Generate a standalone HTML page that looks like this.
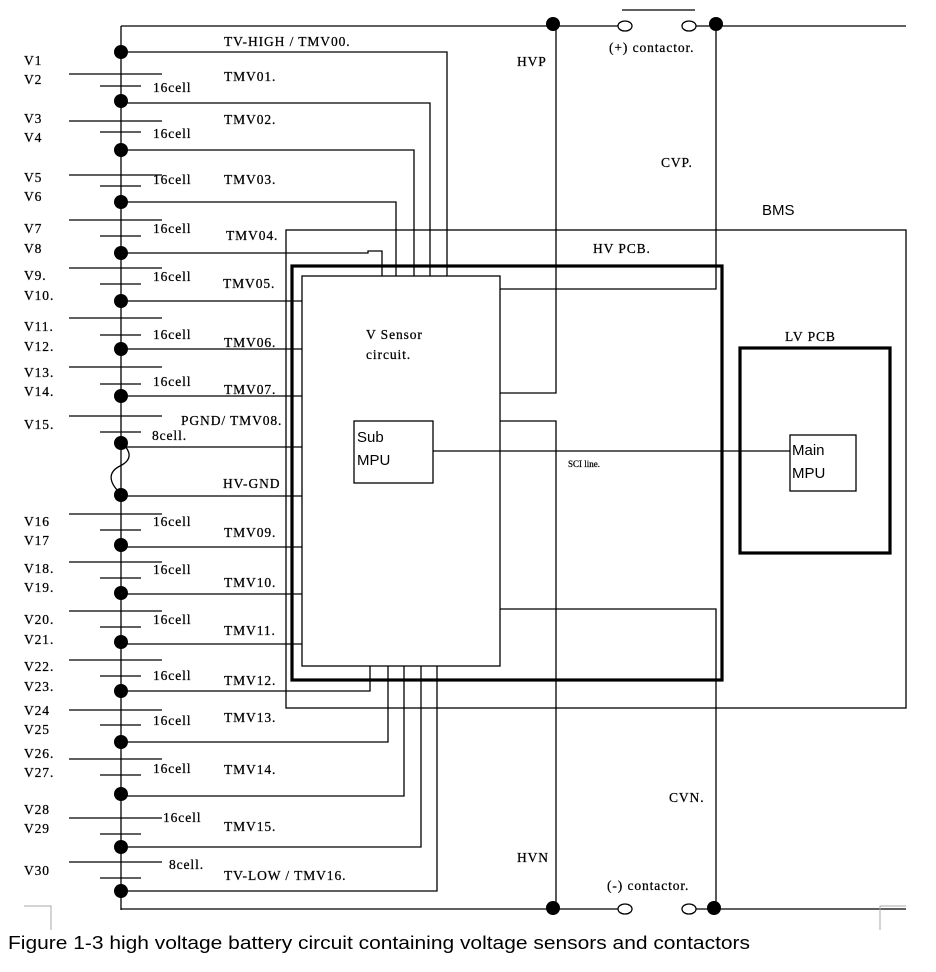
<!DOCTYPE html>
<html><head><meta charset="utf-8"><style>
html,body{margin:0;padding:0;background:#fff;}
svg{display:block;}
.t{font-family:"Liberation Serif",serif;font-size:13.5px;letter-spacing:0.9px;fill:#000;stroke:#000;stroke-width:0.25;}
.s{font-family:"Liberation Sans",sans-serif;fill:#000;}
</style></head><body>
<svg width="936" height="972" viewBox="0 0 936 972" xmlns="http://www.w3.org/2000/svg">
<g stroke="#000" stroke-width="1.3" fill="none">
<line x1="121" y1="26" x2="121" y2="910"/>
<line x1="121" y1="26" x2="618" y2="26"/>
<line x1="696" y1="26" x2="906" y2="26"/>
<line x1="622" y1="10" x2="695" y2="10"/>
<ellipse cx="625" cy="26" rx="7" ry="5"/>
<ellipse cx="689" cy="26" rx="7" ry="5"/>
<line x1="121" y1="909" x2="618" y2="909"/>
<line x1="696" y1="909" x2="906" y2="909"/>
<ellipse cx="625" cy="909" rx="7" ry="5"/>
<ellipse cx="689" cy="909" rx="7" ry="5"/>
<path d="M69 74H162M100 86H141
M69 121H162M100 132H141
M69 175H162M100 186H141
M69 220H162M100 236H141
M69 268H162M100 284H141
M69 318H162M100 335H141
M69 367H162M100 384H141
M69 416H162M100 432H141
M69 514H162M100 530H141
M69 562H162M100 578H141
M69 611H162M100 627H141
M69 660H162M100 676H141
M69 710H162M100 725H141
M69 759H162M100 775H141
M69 818H162M100 834H141
M69 862H162M100 878H141"/>
<path d="M121 442 C132 452,132 460,120 466 C108 472,108 482,121 494"/>
<rect x="286" y="230" width="620" height="478"/>
<rect x="302" y="276" width="198" height="390"/>
<rect x="354" y="421" width="79" height="62"/>
<rect x="790" y="435" width="66" height="56"/>
<line x1="433" y1="451" x2="790" y2="451"/>
<path d="M121 52H447V276"/>
<path d="M121 103H430V276"/>
<path d="M121 150H414V276"/>
<path d="M121 202H396V276"/>
<path d="M121 253H368V251H382V276"/>
<path d="M121 301H302M121 349H302M121 396H302M121 447H302M121 496H302M121 547H302M121 594H302M121 644H302"/>
<path d="M121 691H370V666"/>
<path d="M121 742H388V666"/>
<path d="M121 796H404V666"/>
<path d="M121 847H421V666"/>
<path d="M121 891H437V666"/>
<path d="M556 24V393H500"/>
<path d="M556 908V421H500"/>
<path d="M716 24V289H500"/>
<path d="M716 908V609H500"/>
</g>
<g stroke="#000" stroke-width="3.2" fill="none">
<rect x="292" y="266" width="430" height="414"/>
<rect x="740" y="348" width="150" height="205"/>
</g>
<g fill="#000">
<circle cx="121" cy="52" r="7"/><circle cx="121" cy="101" r="7"/><circle cx="121" cy="150" r="7"/>
<circle cx="121" cy="202" r="7"/><circle cx="121" cy="253" r="7"/><circle cx="121" cy="301" r="7"/>
<circle cx="121" cy="349" r="7"/><circle cx="121" cy="396" r="7"/><circle cx="121" cy="443" r="7"/>
<circle cx="121" cy="495" r="7"/><circle cx="121" cy="545" r="7"/><circle cx="121" cy="593" r="7"/>
<circle cx="121" cy="642" r="7"/><circle cx="121" cy="691" r="7"/><circle cx="121" cy="742" r="7"/>
<circle cx="121" cy="794" r="7"/><circle cx="121" cy="847" r="7"/><circle cx="121" cy="891" r="7"/>
<circle cx="553" cy="24" r="7"/><circle cx="716" cy="24" r="7"/>
<circle cx="553" cy="908" r="7"/><circle cx="714" cy="908" r="7"/>
</g>
<g stroke="#aaa" fill="none"><path d="M24 906H51V930"/><path d="M906 906H880V930"/></g>
<g class="t">
<text x="24" y="65">V1</text><text x="24" y="84">V2</text><text x="24" y="123">V3</text><text x="24" y="142">V4</text>
<text x="24" y="182">V5</text><text x="24" y="201">V6</text><text x="24" y="233">V7</text><text x="24" y="253">V8</text>
<text x="24" y="280">V9.</text><text x="24" y="300">V10.</text><text x="24" y="331">V11.</text><text x="24" y="351">V12.</text>
<text x="24" y="377">V13.</text><text x="24" y="396">V14.</text><text x="24" y="429">V15.</text>
<text x="24" y="526">V16</text><text x="24" y="545">V17</text><text x="24" y="573">V18.</text><text x="24" y="592">V19.</text>
<text x="24" y="624">V20.</text><text x="24" y="644">V21.</text><text x="24" y="671">V22.</text><text x="24" y="691">V23.</text>
<text x="24" y="715">V24</text><text x="24" y="734">V25</text><text x="24" y="758">V26.</text><text x="24" y="777">V27.</text>
<text x="24" y="814">V28</text><text x="24" y="833">V29</text><text x="24" y="875">V30</text>
<text x="153" y="92">16cell</text><text x="153" y="138">16cell</text><text x="153" y="184">16cell</text>
<text x="153" y="233">16cell</text><text x="153" y="281">16cell</text><text x="153" y="339">16cell</text>
<text x="153" y="386">16cell</text><text x="152" y="440">8cell.</text><text x="153" y="526">16cell</text>
<text x="153" y="574">16cell</text><text x="153" y="624">16cell</text><text x="153" y="680">16cell</text>
<text x="153" y="725">16cell</text><text x="153" y="773">16cell</text><text x="163" y="822">16cell</text>
<text x="169" y="869">8cell.</text>
<text x="224" y="46">TV-HIGH / TMV00.</text><text x="224" y="81">TMV01.</text><text x="224" y="124">TMV02.</text>
<text x="224" y="184">TMV03.</text><text x="226" y="240">TMV04.</text><text x="223" y="288">TMV05.</text>
<text x="224" y="347">TMV06.</text><text x="224" y="394">TMV07.</text><text x="181" y="425">PGND/ TMV08.</text>
<text x="223" y="488">HV-GND</text><text x="224" y="537">TMV09.</text><text x="224" y="587">TMV10.</text>
<text x="224" y="635">TMV11.</text><text x="224" y="685">TMV12.</text><text x="224" y="722">TMV13.</text>
<text x="224" y="774">TMV14.</text><text x="224" y="831">TMV15.</text><text x="224" y="880">TV-LOW / TMV16.</text>
<text x="517" y="66">HVP</text><text x="517" y="862">HVN</text><text x="661" y="167">CVP.</text><text x="669" y="802">CVN.</text>
<text x="609" y="52">(+) contactor.</text><text x="607" y="890">(-) contactor.</text>
<text x="593" y="253">HV PCB.</text><text x="785" y="341">LV PCB</text>
<text x="366" y="339">V Sensor</text><text x="366" y="359">circuit.</text>
<text x="568" y="467" style="font-size:9px;letter-spacing:0">SCI line.</text>
</g>
<g class="s">
<text x="762" y="215" font-size="15">BMS</text>
<text x="357" y="442" font-size="15">Sub</text><text x="357" y="465" font-size="15">MPU</text>
<text x="792" y="455" font-size="15">Main</text><text x="792" y="478" font-size="15">MPU</text>
<text x="8" y="949" font-size="18" textLength="742" lengthAdjust="spacingAndGlyphs">Figure  1-3 high voltage battery circuit containing voltage sensors and contactors</text>
</g>
</svg>
</body></html>
